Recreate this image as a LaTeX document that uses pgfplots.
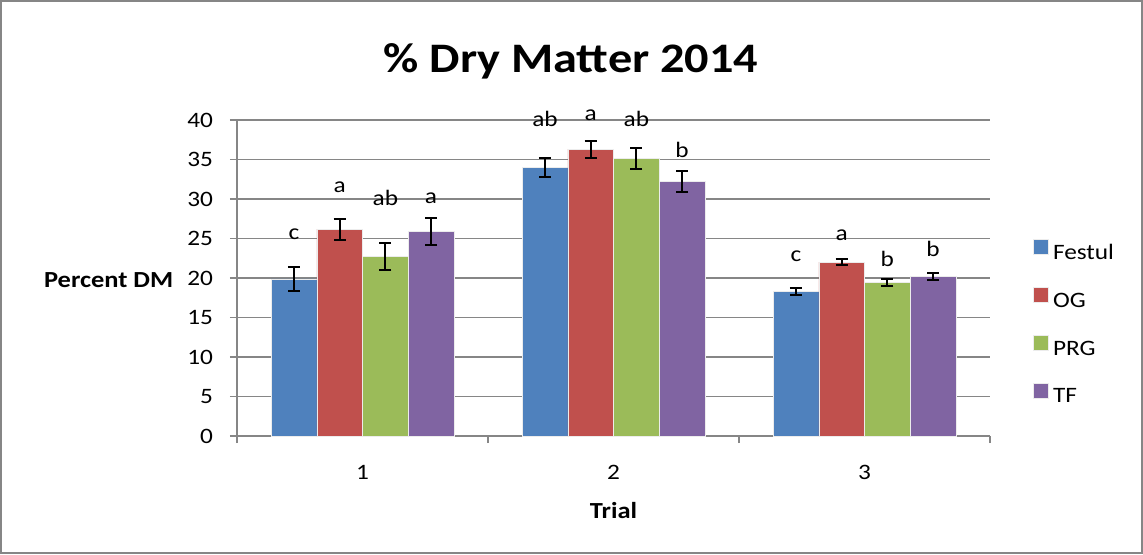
\documentclass[border=0pt]{standalone}
\usepackage{fontspec}
\setmainfont[FakeStretch=1.15]{Carlito}
\usepackage{pgfplots}
\pgfplotsset{compat=1.18}

\definecolor{festul}{HTML}{4F81BD}
\definecolor{og}{HTML}{C0504D}
\definecolor{prg}{HTML}{9BBB59}
\definecolor{tf}{HTML}{8064A2}
\definecolor{xlgray}{RGB}{134,134,134}

\begin{document}
\begin{tikzpicture}[lett/.style={anchor=center, black, font=\fontsize{11}{13}\selectfont}]
\begin{axis}[
    scale only axis, width=376.5pt, height=158pt,
    ybar=0pt, bar width=22.85pt,
    xmin=0.5, xmax=3.5, ymin=0, ymax=40,
    clip=false,
    axis lines*=left,
    axis line style={xlgray, line width=0.75pt},
    ytick={0,5,...,40}, xtick={1,2,3},
    minor xtick={0.5,1.5,2.5,3.5},
    tick style={xlgray, line width=0.75pt},
    major x tick style={draw=none},
    tick align=outside, major tick length=3.5pt, minor tick length=3.5pt,
    ymajorgrids, grid style={xlgray, line width=0.75pt},
    /pgf/number format/assume math mode=true,
    tick label style={font=\fontsize{11}{13}\selectfont, black},
    xticklabel style={anchor=center, yshift=-14.5pt},
    yticklabel style={anchor=east, xshift=-5pt},
    every axis y label/.style={at={(axis description cs:0,0.494)}, anchor=east, xshift=-28.3pt,
        font=\fontsize{11.5}{13}\selectfont\bfseries},
    every axis x label/.style={at={(axis description cs:0.5,0)}, anchor=center, yshift=-37pt,
        font=\fontsize{11.5}{13}\selectfont\bfseries},
    xlabel={Trial}, ylabel={Percent DM},
    every axis plot post/.append style={draw=white!85!gray, line width=0.3pt,
        legend image code/.code={\fill[##1] (0pt,-0.3pt) rectangle (7.5pt,7.2pt);}},
    error bars/y dir=both, error bars/y explicit,
    error bars/error bar style={line width=1pt, black},
    error bars/error mark options={rotate=90, mark size=3pt, line width=1pt, black},
    legend cell align=left,
    legend style={draw=none, fill=none, at={(1,0.354)}, anchor=west, xshift=21.5pt,
        row sep=10.25pt, inner sep=0pt, font=\fontsize{11}{13}\selectfont},
]
\addplot[fill=festul] coordinates {(1,19.9) +- (0,1.5) (2,34.05) +- (0,1.2) (3,18.3) +- (0,0.42)};
\addplot[fill=og] coordinates {(1,26.2) +- (0,1.33) (2,36.3) +- (0,1.05) (3,22.0) +- (0,0.38)};
\addplot[fill=prg] coordinates {(1,22.7) +- (0,1.7) (2,35.15) +- (0,1.35) (3,19.4) +- (0,0.42)};
\addplot[fill=tf] coordinates {(1,25.9) +- (0,1.7) (2,32.2) +- (0,1.3) (3,20.2) +- (0,0.46)};
\legend{Festul, OG, PRG, TF}

% significance letters
\node[lett] at (axis cs:0.727,25.6) {c};
\node[lett] at (axis cs:0.909,31.5) {a};
\node[lett] at (axis cs:1.091,30.1) {ab};
\node[lett] at (axis cs:1.273,30.1) {a};
\node[lett] at (axis cs:1.727,40.1) {ab};
\node[lett] at (axis cs:1.909,40.6) {a};
\node[lett] at (axis cs:2.091,40.1) {ab};
\node[lett] at (axis cs:2.273,36.2) {b};
\node[lett] at (axis cs:2.727,22.7) {c};
\node[lett] at (axis cs:2.909,25.4) {a};
\node[lett] at (axis cs:3.091,22.4) {b};
\node[lett] at (axis cs:3.273,23.7) {b};
\end{axis}
\node[font=\fontsize{21}{24}\selectfont\bfseries] at ([shift={(167pt,187.5pt)}]current axis.south west) {\% Dry Matter 2014};
\path ([shift={(-118.5pt,-59pt)}]current axis.south west) rectangle ([shift={(453pt,218pt)}]current axis.south west);
\draw[xlgray, line width=0.75pt] ([shift={(-118pt,-58.5pt)}]current axis.south west) rectangle ([shift={(452.5pt,217.5pt)}]current axis.south west);
\end{tikzpicture}
\end{document}
